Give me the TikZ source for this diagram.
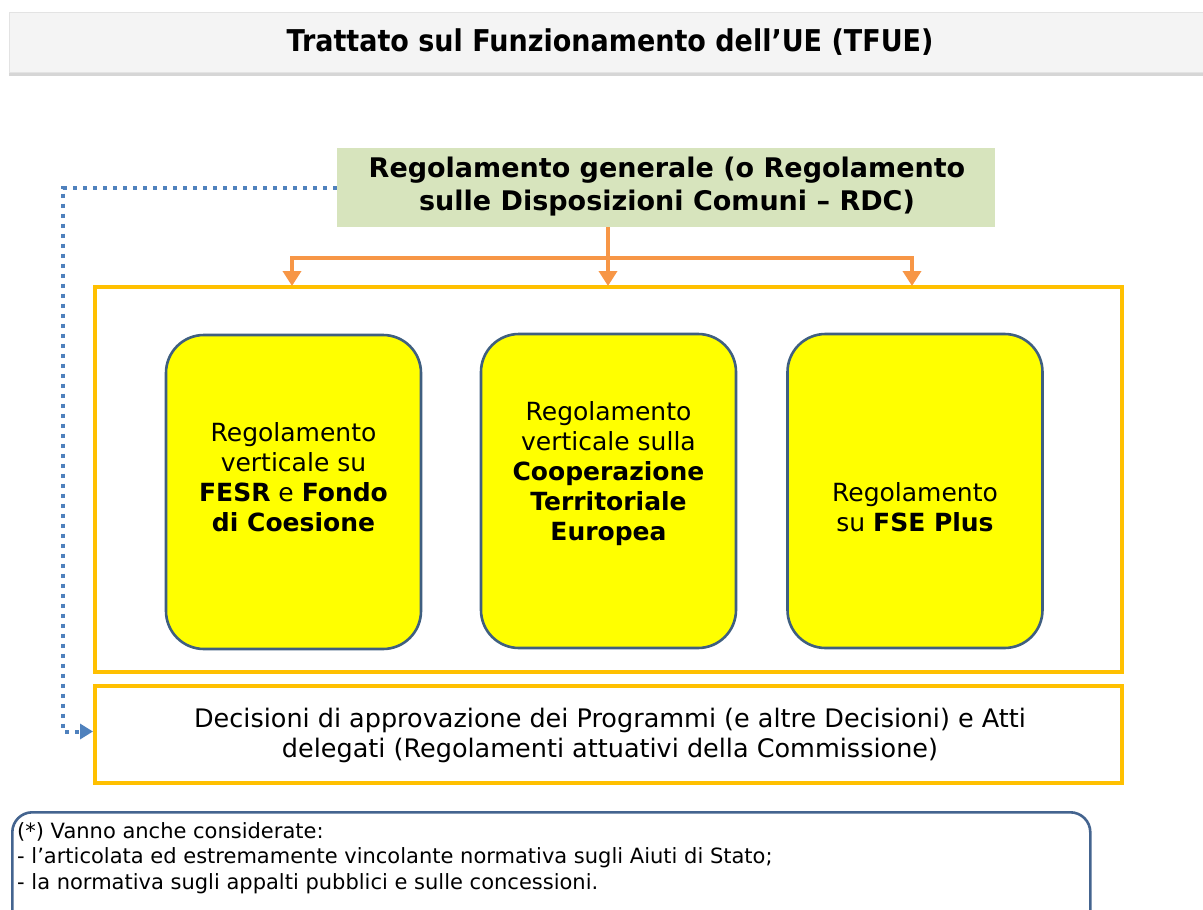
\documentclass[tikz,border=0pt]{standalone}
\usepackage{fontspec}
\setmainfont{DejaVu Sans}
\newfontfamily\titlefont[FakeStretch=0.9]{DejaVu Sans}
\usetikzlibrary{arrows.meta,shadows}
\definecolor{frameor}{HTML}{FFC000}
\definecolor{arrowor}{HTML}{F79646}
\definecolor{greenbox}{HTML}{D7E4BD}
\definecolor{ybord}{HTML}{3F5F80}
\definecolor{notebord}{HTML}{44648F}
\definecolor{dotblue}{HTML}{4F81BD}
\definecolor{yfill}{HTML}{FFFF00}
\tikzset{
  titlebar/.style={draw=gray!22, line width=0.6pt, fill=gray!9,
    drop shadow={shadow xshift=0pt, shadow yshift=-4pt, opacity=0.4, fill=gray!80},
    minimum width=1215, minimum height=60, anchor=north west, inner sep=0},
  greenstyle/.style={fill=greenbox, minimum width=658, minimum height=79, inner sep=0},
  framestyle/.style={draw=frameor, line width=4pt, inner sep=0},
  ybox/.style={draw=ybord, line width=2.6pt, fill=yfill, rounded corners=38pt,
    minimum width=255, minimum height=314, inner sep=0},
  boxtext/.style={align=center, inner sep=0, font=\fontsize{25}{30}\selectfont},
  oline/.style={draw=arrowor, line width=3.5pt},
  otip/.style={-{Triangle[width=18pt,length=15pt]}},
  dotline/.style={draw=dotblue, line width=4pt, dash pattern=on 4pt off 6pt,
    -{Triangle[width=15pt,length=13pt]}},
  notestyle/.style={draw=notebord, line width=2.6pt, rounded corners=20pt,
    minimum width=1078, minimum height=130, anchor=north west, inner sep=0},
}
\begin{document}
\begin{tikzpicture}[x=1pt,y=-1pt]
\useasboundingbox (0,0) rectangle (1203,910);
\clip (0,0) rectangle (1203,910);
\fill[white] (0,0) rectangle (1203,910);
% title bar
\node[titlebar] (tb) at (9,12) {};
\node[inner sep=0, font=\titlefont\bfseries\fontsize{30}{36}\selectfont] (tt) at (610,42) {Trattato sul Funzionamento dell’UE (TFUE)};
% general regulation
\node[greenstyle] (g) at (666,187.5) {};
\node[align=center, inner sep=0, font=\bfseries\fontsize{27}{33}\selectfont] (gt) at (667,187) {Regolamento generale (o Regolamento\\sulle Disposizioni Comuni – RDC)};
% frames
\node[framestyle, minimum width=1027, minimum height=385] (fr) at (608.5,479.5) {};
\node[framestyle, minimum width=1027, minimum height=97] (bf) at (608.5,734.5) {};
\node[align=center, inner sep=0, font=\fontsize{25.5}{30}\selectfont] (bt) at (610,735) {Decisioni di approvazione dei Programmi (e altre Decisioni) e Atti\\delegati (Regolamenti attuativi della Commissione)};
% yellow boxes
\node[ybox] (b1) at (293.5,492) {};
\node[ybox] (b2) at (608.5,491) {};
\node[ybox] (b3) at (915,491) {};
\node[boxtext] (t1) at (293.5,477) {Regolamento\\verticale su\\\textbf{FESR} e \textbf{Fondo}\\\textbf{di Coesione}};
\node[boxtext] (t2) at (608.5,474) {Regolamento\\verticale sulla\\\textbf{Cooperazione}\\\textbf{Territoriale}\\\textbf{Europea}};
\node[boxtext] (t3) at (915,507) {Regolamento\\su \textbf{FSE Plus}};
% orange connectors
\coordinate (j) at (608,258);
\coordinate (a1) at (292,286);
\coordinate (a2) at (608,286);
\coordinate (a3) at (912,286);
\draw[oline] (g.south -| j) -- (j);
\draw[oline, otip] (j) -| (a1);
\draw[oline, otip] (j) -| (a3);
\draw[oline, otip] (j) -- (a2);
% dotted connector
\coordinate (c1) at (63,500);
\draw[dotline] (g.west) -| (c1) |- ([yshift=3pt]bf.west);
% note
\node[notestyle] (nb) at (11,811) {};
\node[align=left, anchor=north west, inner sep=0, font=\fontsize{21}{25.5}\selectfont] (nt) at (17,822) {(*) Vanno anche considerate:\\- l’articolata ed estremamente vincolante normativa sugli Aiuti di Stato;\\- la normativa sugli appalti pubblici e sulle concessioni.};
\end{tikzpicture}
\end{document}
